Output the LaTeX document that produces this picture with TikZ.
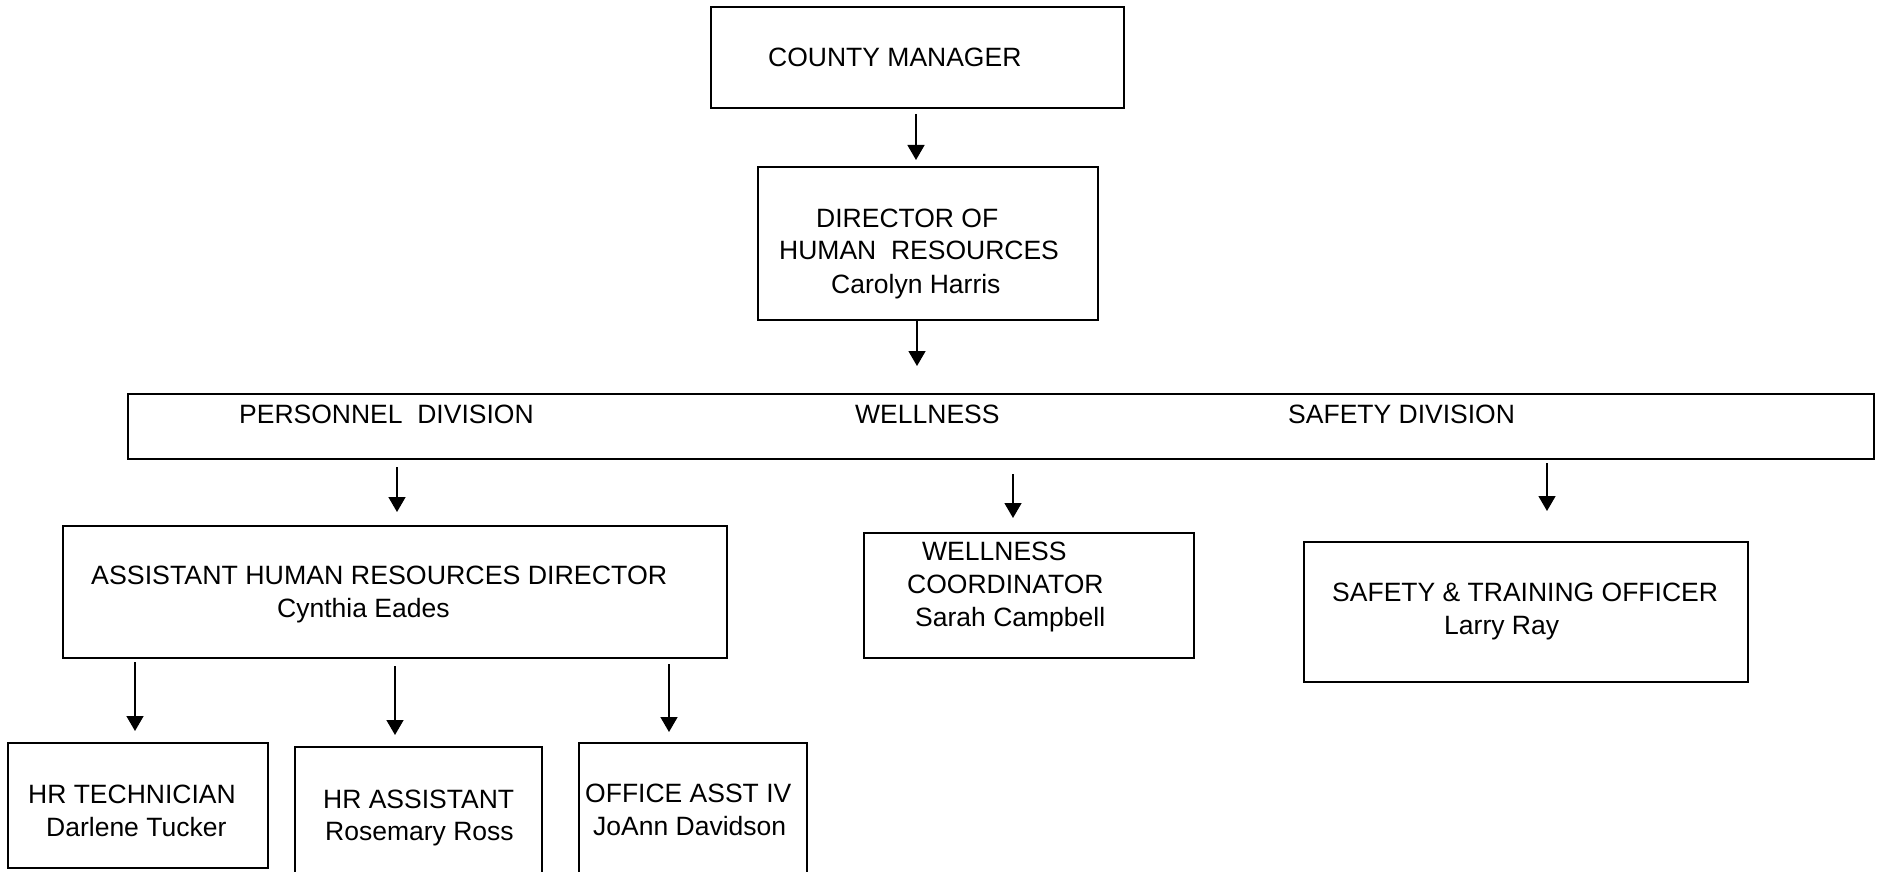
\documentclass[tikz,border=0pt]{standalone}
\usepackage{fontspec}
\setmainfont{Liberation Sans}
\usetikzlibrary{arrows.meta}
\begin{document}
\begin{tikzpicture}[x=1pt,y=-1pt,
  box/.style={draw, line width=1.8pt, rectangle, inner sep=0pt},
  lbl/.style={anchor=base west, inner sep=0pt, font=\fontsize{26.5pt}{30pt}\selectfont},
  arr/.style={line width=1.5pt, -{Triangle[width=17pt,length=15pt]}}]
\useasboundingbox (0,0) rectangle (1885,872);
\fill[white] (0,0) rectangle (1885,872);
% boxes
\node[box, minimum width=413pt, minimum height=101pt] (cm) at (917.5,57.5) {};
\node[box, minimum width=340pt, minimum height=153pt] (dir) at (928,243.5) {};
\node[box, minimum width=1746pt, minimum height=65pt] (div) at (1001,426.5) {};
\node[box, minimum width=664pt, minimum height=132pt] (ahr) at (395,592) {};
\node[box, minimum width=330pt, minimum height=125pt] (wc) at (1029,595.5) {};
\node[box, minimum width=444pt, minimum height=140pt] (saf) at (1526,612) {};
\node[box, minimum width=260pt, minimum height=125pt] (hrt) at (138,805.5) {};
\node[box, minimum width=247pt, minimum height=131pt] (hra) at (418.5,812.5) {};
\node[box, minimum width=228pt, minimum height=135pt] (oa) at (693,810.5) {};
% texts
\node[lbl] (tcm) at (768,67) {COUNTY MANAGER};
\node[lbl] (tdir1) at (816,227) {DIRECTOR OF};
\node[lbl] (tdir2) at (779,259) {HUMAN\ \ RESOURCES};
\node[lbl] (tdir3) at (831,293) {Carolyn Harris};
\node[lbl] (tdiv1) at (239,423) {PERSONNEL\ \ DIVISION};
\node[lbl] (tdiv2) at (855,423) {WELLNESS};
\node[lbl] (tdiv3) at (1288,423) {SAFETY DIVISION};
\node[lbl, xscale=1.01] (tahr1) at (91,584) {ASSISTANT HUMAN RESOURCES DIRECTOR};
\node[lbl] (tahr2) at (277,617) {Cynthia Eades};
\node[lbl] (twc1) at (922,560) {WELLNESS};
\node[lbl] (twc2) at (907,593) {COORDINATOR};
\node[lbl] (twc3) at (915,626) {Sarah Campbell};
\node[lbl] (tsaf1) at (1332,601) {SAFETY \& TRAINING OFFICER};
\node[lbl] (tsaf2) at (1444,634) {Larry Ray};
\node[lbl] (thrt1) at (28,803) {HR TECHNICIAN};
\node[lbl] (thrt2) at (46,836) {Darlene Tucker};
\node[lbl] (thra1) at (323,808) {HR ASSISTANT};
\node[lbl] (thra2) at (325,840) {Rosemary Ross};
\node[lbl] (toa1) at (585,802) {OFFICE ASST IV};
\node[lbl] (toa2) at (593,835) {JoAnn Davidson};
% arrow end points
\coordinate (a1s) at (916,114);  \coordinate (a1e) at (916,160);
\coordinate (a2s) at (917,320);  \coordinate (a2e) at (917,366);
\coordinate (a3s) at (397,467);  \coordinate (a3e) at (397,512);
\coordinate (a4s) at (1013,474); \coordinate (a4e) at (1013,518);
\coordinate (a5s) at (1547,463); \coordinate (a5e) at (1547,511);
\coordinate (a6s) at (135,662);  \coordinate (a6e) at (135,731);
\coordinate (a7s) at (395,666);  \coordinate (a7e) at (395,735);
\coordinate (a8s) at (669,664);  \coordinate (a8e) at (669,732);
\draw[arr] (a1s) -- (a1e);
\draw[arr] (a2s) -- (a2e);
\draw[arr] (a3s) -- (a3e);
\draw[arr] (a4s) -- (a4e);
\draw[arr] (a5s) -- (a5e);
\draw[arr] (a6s) -- (a6e);
\draw[arr] (a7s) -- (a7e);
\draw[arr] (a8s) -- (a8e);
\end{tikzpicture}
\end{document}
